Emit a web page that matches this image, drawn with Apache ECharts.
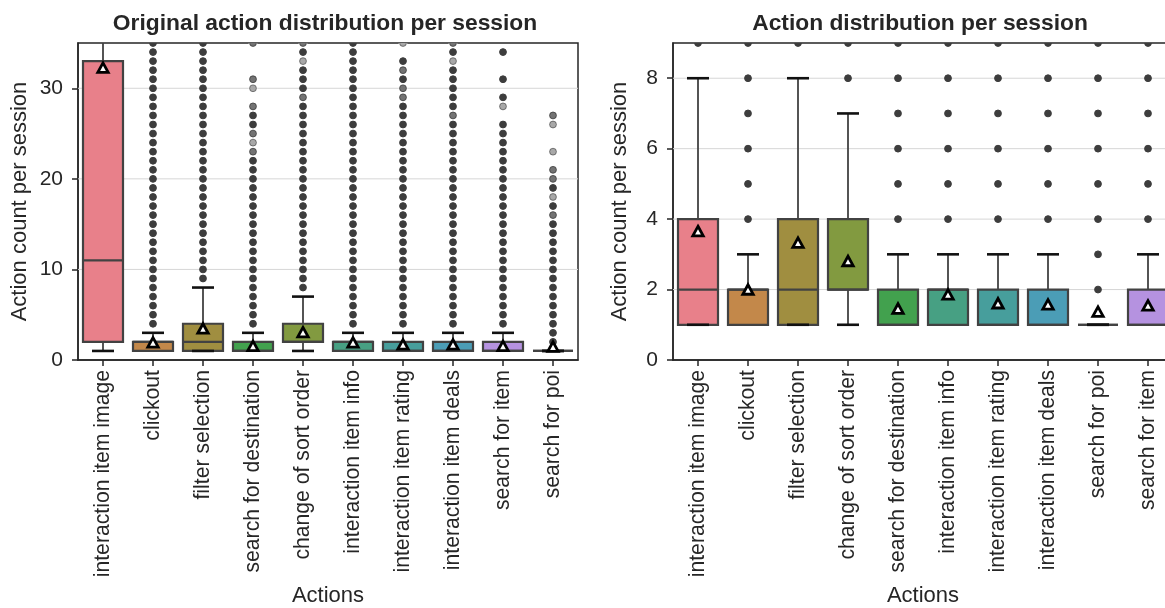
<!DOCTYPE html>
<html>
<head>
<meta charset="utf-8">
<script src="https://cdn.jsdelivr.net/npm/echarts@6/dist/echarts.min.js"></script>
<style>
  html, body { margin: 0; padding: 0; background: #ffffff; }
  #chart { width: 1165px; height: 608px; }
</style>
</head>
<body>
<div id="chart"></div>
<script>
// ---------- Left panel: original distribution ----------
const origActions = ['interaction item image', 'clickout', 'filter selection', 'search for destination',
  'change of sort order', 'interaction item info', 'interaction item rating', 'interaction item deals',
  'search for item', 'search for poi'];
// null lower whisker = whisker coincides with Q1 and no cap shows
const origLow    = [1, null, 1, null, 1, null, null, null, null, 1];
const origQ1     = [2, 1, 1, 1, 2, 1, 1, 1, 1, 1];
const origMedian = [11, 2, 2, 1, 2, 2, 1, 1, 1, 1];
const origQ3     = [33, 2, 4, 2, 4, 2, 2, 2, 2, 1];
const origHigh   = [79, 3, 8, 3, 7, 3, 3, 3, 3, 1];
const origMean   = [32.2, 1.87, 3.4, 1.47, 3.0, 1.87, 1.65, 1.65, 1.47, 1.4];
const origTicks  = [0, 10, 20, 30];

function range(a, b) { const r = []; for (let v = a; v <= b; v++) r.push(v); return r; }
const origOutliers = [
  [],
  range(4, 35),
  range(9, 35),
  range(4, 28).concat([30, 31, 35]),
  range(8, 35),
  range(4, 35),
  range(4, 33).concat([35]),
  range(4, 35),
  range(4, 26).concat([28, 29, 31, 34]),
  range(2, 21).concat([23, 26, 27])
];
// outlier values shared by only a few sessions (rendered lighter)
const origSparse = [[3, 35], [3, 31], [3, 28], [3, 25], [3, 23], [4, 35], [4, 29], [6, 32], [6, 30], [6, 29],
  [7, 35], [7, 27], [9, 27], [9, 21], [9, 20], [9, 16]];
const origRare = [[3, 30], [3, 24], [4, 33], [6, 35], [7, 33], [8, 28], [9, 26], [9, 23], [9, 18]];

// ---------- Right panel: cleaned distribution ----------
const actions = ['interaction item image', 'clickout', 'filter selection', 'change of sort order',
  'search for destination', 'interaction item info', 'interaction item rating', 'interaction item deals',
  'search for poi', 'search for item'];
const low    = [1, null, 1, 1, null, null, null, null, 1, null];
const q1     = [1, 1, 1, 2, 1, 1, 1, 1, 1, 1];
const median = [2, 2, 2, 2, 1, 2, 1, 1, 1, 1];
const q3     = [4, 2, 4, 4, 2, 2, 2, 2, 1, 2];
const high   = [8, 3, 8, 7, 3, 3, 3, 3, 1, 3];
const mean   = [3.64, 1.98, 3.31, 2.79, 1.44, 1.84, 1.59, 1.56, 1.35, 1.53];
const ticks  = [0, 2, 4, 6, 8];
const outliers = [
  [9], range(4, 9), [9], [8, 9], range(4, 9), range(4, 9), range(4, 9), range(4, 9), range(2, 9), range(4, 9)
];

// box colours keyed by action name
const palette = {
  'interaction item image': '#e8808a',
  'clickout': '#c3884a',
  'filter selection': '#a08e40',
  'change of sort order': '#829a40',
  'search for destination': '#42a14e',
  'interaction item info': '#47a083',
  'interaction item rating': '#479e9c',
  'interaction item deals': '#4b9db6',
  'search for poi': '#6fa0e8',
  'search for item': '#b592e0'
};

const FONT = "'Liberation Sans', Arial, Helvetica, sans-serif";
const INK = '#262626';
const EDGE = '#424242';

function boxData(lowA, q1A, medA, q3A, highA, meanA) {
  return q1A.map((_, i) => [i, lowA[i], q1A[i], medA[i], q3A[i], highA[i], meanA[i]]);
}

function renderBox(names) {
  return function (params, api) {
    const i = api.value(0);
    const band = api.size([1, 0])[0];
    const bw = band * 0.8;
    const cw = bw * 0.55;
    const cx = api.coord([i, 0])[0];
    const y = v => api.coord([i, v])[1];
    const lo = api.value(1), b1 = api.value(2), md = api.value(3), b3 = api.value(4), hi = api.value(5), mn = api.value(6);
    const color = palette[names[i]];
    const kids = [];
    // whiskers
    kids.push({ type: 'line', shape: { x1: cx, y1: y(b3), x2: cx, y2: y(hi) }, style: { stroke: EDGE, lineWidth: 1.8 } });
    if (lo !== null && !isNaN(lo) && lo < b1) {
      kids.push({ type: 'line', shape: { x1: cx, y1: y(b1), x2: cx, y2: y(lo) }, style: { stroke: EDGE, lineWidth: 1.8 } });
    }
    // box
    kids.push({ type: 'rect', shape: { x: cx - bw / 2, y: y(b3), width: bw, height: y(b1) - y(b3) },
      style: { fill: color, stroke: EDGE, lineWidth: 2.2 } });
    // median
    kids.push({ type: 'line', shape: { x1: cx - bw / 2, y1: y(md), x2: cx + bw / 2, y2: y(md) }, style: { stroke: EDGE, lineWidth: 2.2 } });
    // caps
    kids.push({ type: 'line', shape: { x1: cx - cw / 2, y1: y(hi), x2: cx + cw / 2, y2: y(hi) }, style: { stroke: '#111', lineWidth: 2.6 } });
    if (lo !== null && !isNaN(lo)) {
      kids.push({ type: 'line', shape: { x1: cx - cw / 2, y1: y(lo), x2: cx + cw / 2, y2: y(lo) }, style: { stroke: '#111', lineWidth: 2.6 } });
    }
    // mean marker
    const my = y(mn);
    kids.push({ type: 'polygon', shape: { points: [[cx, my - 5.5], [cx + 5.2, my + 4], [cx - 5.2, my + 4]] },
      style: { fill: '#ffffff', stroke: '#000', lineWidth: 2.8, lineJoin: 'miter' } });
    return { type: 'group', children: kids };
  };
}

function flierData(list) {
  const out = [];
  list.forEach((vals, i) => vals.forEach(v => out.push([i, v])));
  return out;
}

function renderDot(fill, stroke, r) {
  return function (params, api) {
    const p = api.coord([api.value(0), api.value(1)]);
    return { type: 'circle', shape: { cx: p[0], cy: p[1], r: r }, style: { fill: fill, stroke: stroke, lineWidth: 1 } };
  };
}

function xAxisFor(names, gridIndex) {
  return {
    type: 'category', gridIndex: gridIndex, data: names,
    name: 'Actions', nameLocation: 'middle', nameGap: 222,
    nameTextStyle: { fontFamily: FONT, fontSize: 22, color: INK },
    axisLine: { show: true, lineStyle: { color: INK, width: 1.5 } },
    axisTick: { show: true, alignWithLabel: true, length: 6, lineStyle: { color: INK, width: 1.5 } },
    axisLabel: { rotate: 90, fontFamily: FONT, fontSize: 21.2, color: INK, margin: 10 },
    splitLine: { show: false }
  };
}

function yAxisFor(max, tickVals, gridIndex, gap) {
  return {
    type: 'value', gridIndex: gridIndex, min: 0, max: max,
    name: 'Action count per session', nameLocation: 'middle', nameGap: gap, nameRotate: 90,
    nameTextStyle: { fontFamily: FONT, fontSize: 22, color: INK },
    axisLine: { show: true, lineStyle: { color: INK, width: 1.5 } },
    axisTick: { show: true, length: 6, customValues: tickVals, lineStyle: { color: INK, width: 1.5 } },
    axisLabel: { fontFamily: FONT, fontSize: 21, color: INK, margin: 15, customValues: tickVals },
    splitLine: { show: false }
  };
}

function panelSeries(names, data, fliers, sparse, rare, idx) {
  // horizontal reference lines at the labelled ticks
  const gridLines = { type: 'custom', xAxisIndex: idx, yAxisIndex: idx, clip: true, z: 1,
    data: (idx === 0 ? origTicks : ticks).filter(v => v > 0).map(v => [0, v]),
    renderItem: function (params, api) {
      const cs = params.coordSys;
      const yy = api.coord([0, api.value(1)])[1];
      return { type: 'line', shape: { x1: cs.x, y1: yy, x2: cs.x + cs.width, y2: yy }, style: { stroke: '#d6d6d6', lineWidth: 1 } };
    } };
  const s = [
    gridLines,
    { type: 'custom', xAxisIndex: idx, yAxisIndex: idx, clip: true, renderItem: renderBox(names), data: data, z: 3 },
    { type: 'custom', xAxisIndex: idx, yAxisIndex: idx, clip: true, renderItem: renderDot('#3d3d3d', '#3d3d3d', 3.4), data: fliers, z: 2 }
  ];
  if (sparse) s.push({ type: 'custom', xAxisIndex: idx, yAxisIndex: idx, clip: true,
    renderItem: renderDot('#ffffff', '#ffffff', 3.9), data: sparse, z: 2 },
    { type: 'custom', xAxisIndex: idx, yAxisIndex: idx, clip: true,
    renderItem: renderDot('rgba(61,61,61,0.72)', 'rgba(61,61,61,0.8)', 3.4), data: sparse, z: 2 });
  if (rare) s.push({ type: 'custom', xAxisIndex: idx, yAxisIndex: idx, clip: true,
    renderItem: renderDot('#ffffff', '#ffffff', 3.9), data: rare, z: 2 },
    { type: 'custom', xAxisIndex: idx, yAxisIndex: idx, clip: true,
    renderItem: renderDot('rgba(61,61,61,0.45)', 'rgba(61,61,61,0.6)', 3.4), data: rare, z: 2 });
  return s;
}

const chart = echarts.init(document.getElementById('chart'), null, { renderer: 'canvas' });
chart.setOption({
  animation: false,
  backgroundColor: '#ffffff',
  title: [
    { text: 'Original action distribution per session', left: 320, top: 7, textAlign: 'center',
      textStyle: { fontFamily: FONT, fontSize: 22.8, fontWeight: 'bold', color: INK } },
    { text: 'Action distribution per session', left: 915, top: 7, textAlign: 'center',
      textStyle: { fontFamily: FONT, fontSize: 22.8, fontWeight: 'bold', color: INK } }
  ],
  grid: [
    { left: 78, top: 43, width: 500, height: 317, show: true, borderColor: INK, borderWidth: 1.5,
      containLabel: false, outerBoundsMode: 'none' },
    { left: 673, top: 43, width: 500, height: 317, show: true, borderColor: INK, borderWidth: 1.5,
      containLabel: false, outerBoundsMode: 'none' }
  ],
  xAxis: [xAxisFor(origActions, 0), xAxisFor(actions, 1)],
  yAxis: [yAxisFor(35, origTicks, 0, 47), yAxisFor(9, ticks, 1, 42)],
  series: [].concat(
    panelSeries(origActions, boxData(origLow, origQ1, origMedian, origQ3, origHigh, origMean),
      flierData(origOutliers), origSparse, origRare, 0),
    panelSeries(actions, boxData(low, q1, median, q3, high, mean), flierData(outliers), null, null, 1)
  )
});
</script>
</body>
</html>
